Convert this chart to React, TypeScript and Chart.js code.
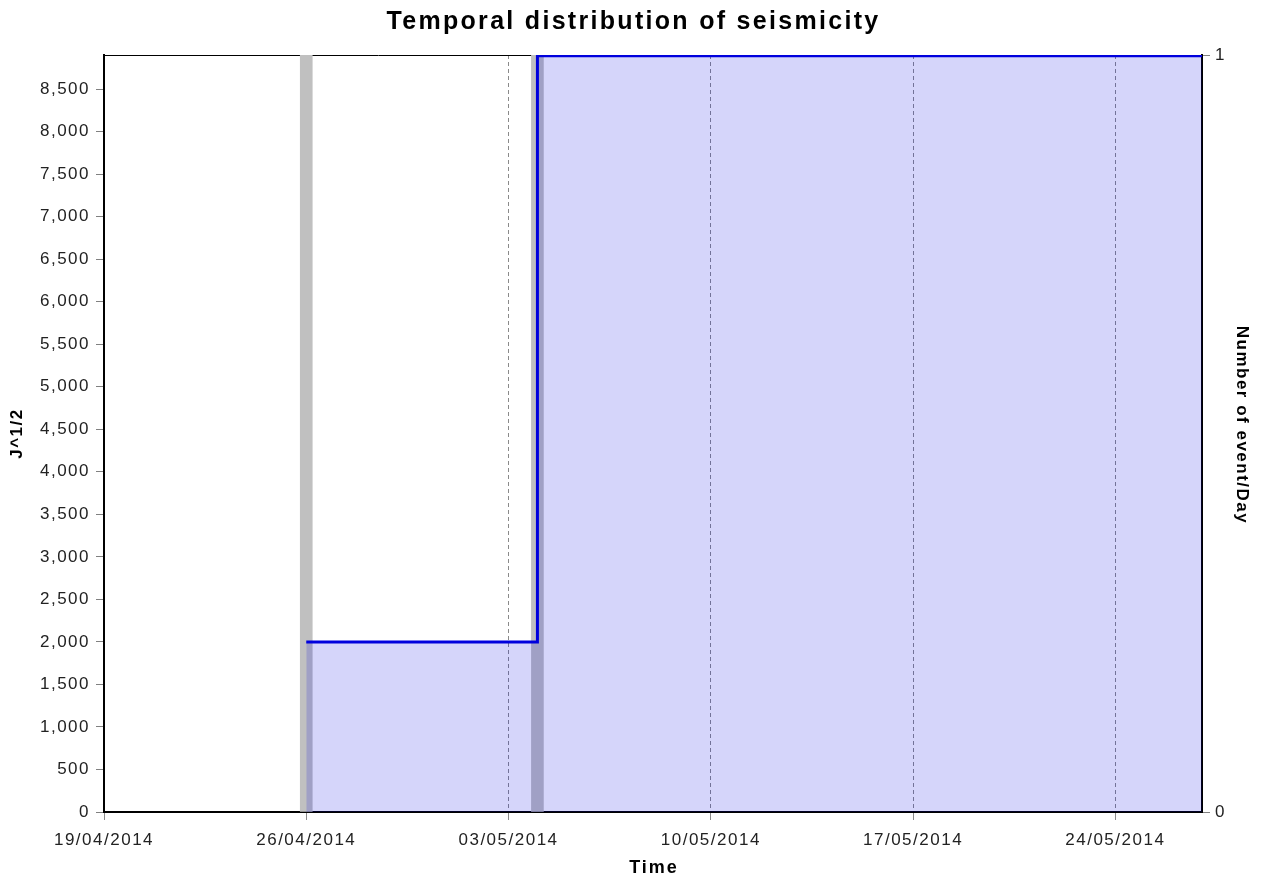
import React, { useEffect, useRef } from 'react';
import { Chart, registerables } from 'chart.js';

Chart.register(...registerables);

const CHART_TITLE = 'Temporal distribution of seismicity';
const X_TITLE = 'Time';
const Y_TITLE = 'J^1/2';
const Y1_TITLE = 'Number of event/Day';

const START_DATE = '2014-04-19';
const END_DATE = '2014-05-27';
const X_TICK_DATES = ['2014-04-19', '2014-04-26', '2014-05-03', '2014-05-10', '2014-05-17', '2014-05-24'];

const EVENT_DATES = ['2014-04-26', '2014-05-04'];
const EVENTS_PER_DAY = [1, 1];

const ENERGY_DATES = ['2014-04-26', '2014-05-04', '2014-05-27'];
const ENERGY_VALUES = [2000, 8890, 8890];

const Y_TICKS = [0, 500, 1000, 1500, 2000, 2500, 3000, 3500, 4000, 4500, 5000, 5500, 6000, 6500, 7000, 7500, 8000, 8500];
const Y_MAX = 8900;
const Y1_TICKS = [0, 1];

const FONT = '"Liberation Sans", Arial, sans-serif';
const DAY = 86400000;

const toMs = (s: string) => {
  const [y, m, d] = s.split('-').map(Number);
  return Date.UTC(y, m - 1, d);
};
const dayIndex = (s: string) => Math.round((toMs(s) - toMs(START_DATE)) / DAY);
const pad = (n: number) => (n < 10 ? '0' + n : '' + n);
const fmtDate = (v: number) => {
  const d = new Date(toMs(START_DATE) + v * DAY);
  return pad(d.getUTCDate()) + '/' + pad(d.getUTCMonth() + 1) + '/' + d.getUTCFullYear();
};

const textPlugin = {
  id: 'customText',
  beforeDraw(chart: any) {
    (chart.ctx as any).letterSpacing = '1.5px';
  },
  beforeDatasetsDraw(chart: any) {
    const { ctx, chartArea } = chart;
    ctx.save();
    ctx.strokeStyle = '#000';
    ctx.lineWidth = 1;
    ctx.beginPath();
    ctx.moveTo(chartArea.left, chartArea.top + 0.5);
    ctx.lineTo(chartArea.right, chartArea.top + 0.5);
    ctx.stroke();
    ctx.restore();
  },
  afterDraw(chart: any) {
    const { ctx, chartArea } = chart;
    ctx.save();
    ctx.fillStyle = '#000';
    ctx.textBaseline = 'alphabetic';
    ctx.textAlign = 'center';

    (ctx as any).letterSpacing = '2.3px';
    ctx.font = `bold 25px ${FONT}`;
    ctx.fillText(CHART_TITLE, chart.width / 2 + 1, 29);

    (ctx as any).letterSpacing = '2px';
    ctx.font = `bold 18px ${FONT}`;
    ctx.fillText(X_TITLE, (chartArea.left + chartArea.right) / 2 + 1, 873);

    (ctx as any).letterSpacing = '1.5px';
    ctx.font = `bold 17px ${FONT}`;
    ctx.save();
    ctx.translate(22, (chartArea.top + chartArea.bottom) / 2);
    ctx.rotate(-Math.PI / 2);
    ctx.fillText(Y_TITLE, 0, 0);
    ctx.restore();

    ctx.save();
    ctx.translate(1237, 425);
    ctx.rotate(Math.PI / 2);
    ctx.fillText(Y1_TITLE, 0, 0);
    ctx.restore();

    ctx.restore();
  },
};

export default function App() {
  const canvasRef = useRef<HTMLCanvasElement | null>(null);

  useEffect(() => {
    if (!canvasRef.current) return;
    const barData = EVENT_DATES.map((d, i) => ({ x: dayIndex(d), y: EVENTS_PER_DAY[i] }));
    const lineData = ENERGY_DATES.map((d, i) => ({ x: dayIndex(d), y: ENERGY_VALUES[i] }));
    const tickFont = { family: FONT, size: 17 };

    const chart = new Chart(canvasRef.current, {
      type: 'line',
      data: {
        datasets: [
          {
            type: 'line',
            label: 'J^1/2',
            data: lineData,
            xAxisID: 'x',
            yAxisID: 'y',
            stepped: true,
            borderColor: '#0000dd',
            borderWidth: 3,
            pointRadius: 0,
            fill: 'origin',
            backgroundColor: 'rgba(0,0,225,0.165)',
            order: 0,
          } as any,
          {
            type: 'bar',
            label: 'Events',
            data: barData,
            xAxisID: 'x',
            yAxisID: 'y1',
            backgroundColor: '#c0c0c0',
            borderWidth: 0,
            barThickness: 12,
            order: 1,
          } as any,
        ],
      },
      options: {
        responsive: false,
        animation: false,
        devicePixelRatio: 1,
        layout: { padding: { top: 55, left: 0, right: 0, bottom: 0 } },
        plugins: {
          legend: { display: false },
          title: { display: false },
          tooltip: { enabled: false },
        },
        scales: {
          x: {
            type: 'linear',
            position: 'bottom',
            min: 0,
            max: dayIndex(END_DATE),
            offset: false,
            afterFit: (s: any) => {
              s.height = 64;
            },
            afterBuildTicks: (s: any) => {
              s.ticks = X_TICK_DATES.map((d) => ({ value: dayIndex(d) }));
            },
            ticks: {
              autoSkip: false,
              maxRotation: 0,
              padding: 10,
              color: '#222',
              font: tickFont,
              callback: (v: any) => fmtDate(Number(v)),
            },
            grid: {
              display: true,
              drawOnChartArea: true,
              drawTicks: true,
              tickLength: 8,
              color: '#8a8a8a',
              lineWidth: 1,
              offset: false,
            },
            border: { display: true, color: '#000', width: 2, dash: [4, 3] },
          },
          y: {
            type: 'linear',
            position: 'left',
            min: 0,
            max: Y_MAX,
            afterFit: (s: any) => {
              s.width = 104;
            },
            afterBuildTicks: (s: any) => {
              s.ticks = Y_TICKS.map((v) => ({ value: v }));
            },
            ticks: {
              padding: 6,
              color: '#222',
              font: tickFont,
              callback: (v: any) => Number(v).toLocaleString('en-US'),
            },
            grid: {
              drawOnChartArea: false,
              drawTicks: true,
              tickLength: 8,
              color: '#808080',
            },
            border: { display: true, color: '#000', width: 2 },
          },
          y1: {
            type: 'linear',
            position: 'right',
            min: 0,
            max: 1,
            afterFit: (s: any) => {
              s.width = 63;
            },
            afterBuildTicks: (s: any) => {
              s.ticks = Y1_TICKS.map((v) => ({ value: v }));
            },
            ticks: {
              padding: 5,
              color: '#222',
              font: tickFont,
              callback: (v: any) => String(v),
            },
            grid: {
              drawOnChartArea: false,
              drawTicks: true,
              tickLength: 8,
              color: '#808080',
            },
            border: { display: true, color: '#000', width: 2 },
          },
        },
      } as any,
      plugins: [textPlugin],
    });

    return () => {
      chart.destroy();
    };
  }, []);

  return (
    <div style={{ position: 'absolute', left: 0, top: 0, width: 1265, height: 876, background: '#fff' }}>
      <canvas ref={canvasRef} width={1265} height={876} style={{ display: 'block' }} />
    </div>
  );
}
